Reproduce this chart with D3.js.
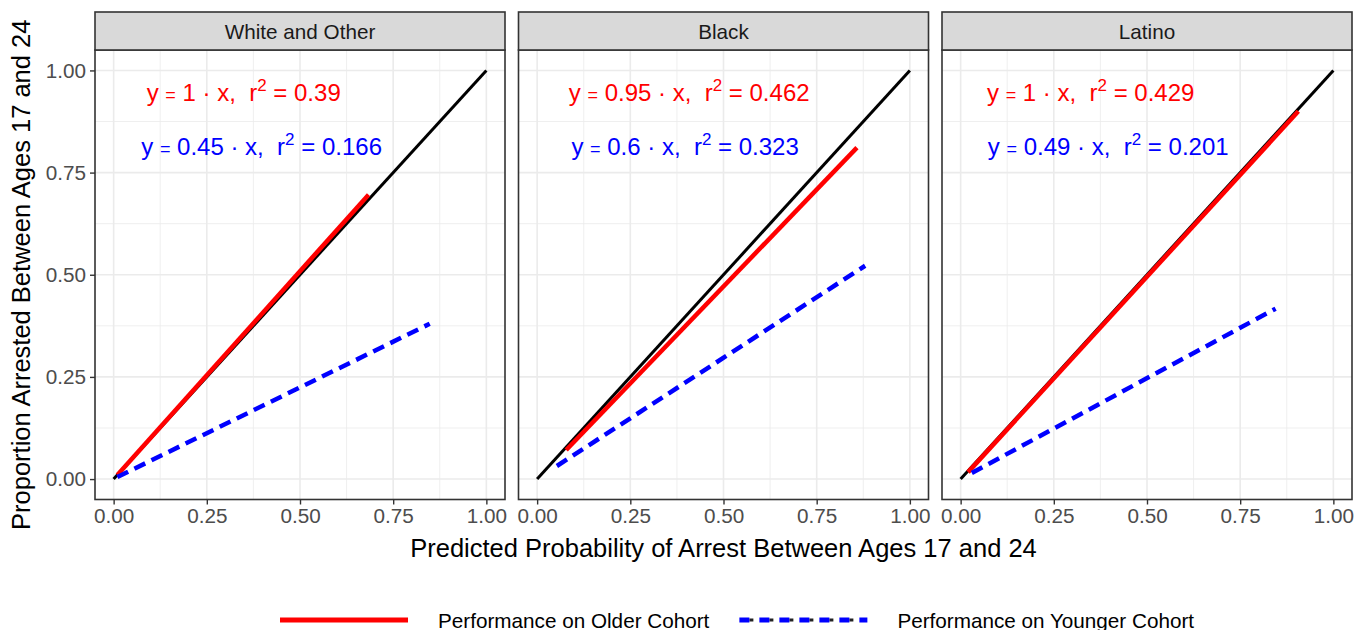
<!DOCTYPE html>
<html>
<head>
<meta charset="utf-8">
<script src="https://cdn.jsdelivr.net/npm/d3@7"></script>
<style>
  body { margin: 0; background: #fff; }
  text { font-family: "Liberation Sans", Arial, sans-serif; }
</style>
</head>
<body>
<div id="chart"></div>
<script>
// panels and axis ticks
var panels = ["White and Other", "Black", "Latino"];
var ticks = [0, 0.25, 0.5, 0.75, 1];
var tickLabels = ["0.00", "0.25", "0.50", "0.75", "1.00"];
var minorTicks = [0.125, 0.375, 0.625, 0.875];

// fitted lines, [x0, y0, x1, y1] per panel
var olderFit = [[0.01, 0.01, 0.684, 0.696], [0.078, 0.071, 0.858, 0.811], [0.02, 0.017, 0.906, 0.90]];
var youngerFit = [[0.01, 0.005, 0.848, 0.38], [0.053, 0.032, 0.88, 0.522], [0.03, 0.015, 0.845, 0.417]];

// equation labels
var olderSlope = ["1", "0.95", "1"];
var olderR2 = ["0.39", "0.462", "0.429"];
var youngerSlope = ["0.45", "0.6", "0.49"];
var youngerR2 = ["0.166", "0.323", "0.201"];
var olderLabelX = [0.349, 0.408, 0.349];
var youngerLabelX = [0.397, 0.397, 0.396];
var olderLabelY = 0.924;
var youngerLabelY = 0.794;

var legendLabels = ["Performance on Older Cohort", "Performance on Younger Cohort"];

var width = 1367, height = 630;
var panelW = 410, panelTop = 50, panelBottom = 499.5, stripTop = 12;
var panelLeft = [95, 518.5, 942];
var smallFont = 20.7, titleFont = 25.5;

var svg = d3.select("#chart").append("svg")
	.attr("width", width)
	.attr("height", height);

var x = d3.scaleLinear().domain([-0.05, 1.05]).range([0, panelW]);
var y = d3.scaleLinear().domain([-0.05, 1.05]).range([panelBottom, panelTop]);

panels.forEach(function(name, i)
{
	var g = svg.append("g").attr("transform", "translate(" + panelLeft[i] + ",0)");

	//minor grid
	minorTicks.forEach(function(t)
	{
		g.append("line").attr("x1", x(t)).attr("x2", x(t)).attr("y1", panelTop).attr("y2", panelBottom)
			.attr("stroke", "#EBEBEB").attr("stroke-width", 0.8);
		g.append("line").attr("x1", 0).attr("x2", panelW).attr("y1", y(t)).attr("y2", y(t))
			.attr("stroke", "#EBEBEB").attr("stroke-width", 0.8);
	});
	//major grid
	ticks.forEach(function(t)
	{
		g.append("line").attr("x1", x(t)).attr("x2", x(t)).attr("y1", panelTop).attr("y2", panelBottom)
			.attr("stroke", "#EBEBEB").attr("stroke-width", 1.6);
		g.append("line").attr("x1", 0).attr("x2", panelW).attr("y1", y(t)).attr("y2", y(t))
			.attr("stroke", "#EBEBEB").attr("stroke-width", 1.6);
	});

	//identity line
	g.append("line")
		.attr("x1", x(0)).attr("y1", y(0)).attr("x2", x(1)).attr("y2", y(1))
		.attr("stroke", "black").attr("stroke-width", 3);

	var o = olderFit[i];
	g.append("line")
		.attr("x1", x(o[0])).attr("y1", y(o[1])).attr("x2", x(o[2])).attr("y2", y(o[3]))
		.attr("stroke", "#FF0000").attr("stroke-width", 4.5);

	var yf = youngerFit[i];
	g.append("line")
		.attr("x1", x(yf[0])).attr("y1", y(yf[1])).attr("x2", x(yf[2])).attr("y2", y(yf[3]))
		.attr("stroke", "#0000FF").attr("stroke-width", 4.5)
		.attr("stroke-dasharray", "12,7");

	//equations
	drawEquation(g, x(olderLabelX[i]), y(olderLabelY), olderSlope[i], olderR2[i], "#FF0000");
	drawEquation(g, x(youngerLabelX[i]), y(youngerLabelY), youngerSlope[i], youngerR2[i], "#0000FF");

	//panel border
	g.append("rect").attr("x", 0).attr("y", panelTop).attr("width", panelW).attr("height", panelBottom - panelTop)
		.attr("fill", "none").attr("stroke", "#333333").attr("stroke-width", 1.6);

	//strip
	g.append("rect").attr("x", 0).attr("y", stripTop).attr("width", panelW).attr("height", panelTop - stripTop)
		.attr("fill", "#D9D9D9").attr("stroke", "#333333").attr("stroke-width", 1.6);
	g.append("text").attr("x", panelW / 2).attr("y", (stripTop + panelTop) / 2 + 7.5)
		.attr("text-anchor", "middle").attr("font-size", smallFont).attr("fill", "#1A1A1A").text(name);

	//x axis
	var xAxis = g.append("g").attr("transform", "translate(0," + panelBottom + ")")
		.call(d3.axisBottom(x).tickValues(ticks).tickFormat(function(d, j) { return tickLabels[j]; })
			.tickSize(5).tickPadding(4));
	xAxis.select(".domain").remove();
	xAxis.selectAll("line").attr("stroke", "#333333").attr("stroke-width", 1.4);
	xAxis.selectAll("text").attr("font-size", smallFont).attr("fill", "#4D4D4D")
		.attr("font-family", "Liberation Sans, Arial, sans-serif");

	if(i == 0)
	{
		var yAxis = g.append("g")
			.call(d3.axisLeft(y).tickValues(ticks).tickFormat(function(d, j) { return tickLabels[j]; })
				.tickSize(5).tickPadding(4));
		yAxis.select(".domain").remove();
		yAxis.selectAll("line").attr("stroke", "#333333").attr("stroke-width", 1.4);
		yAxis.selectAll("text").attr("font-size", smallFont).attr("fill", "#4D4D4D")
			.attr("font-family", "Liberation Sans, Arial, sans-serif");
	}
});

//axis titles
svg.append("text").attr("x", (panelLeft[0] + panelLeft[2] + panelW) / 2).attr("y", 557)
	.attr("text-anchor", "middle").attr("font-size", titleFont).attr("fill", "black")
	.text("Predicted Probability of Arrest Between Ages 17 and 24");
svg.append("text").attr("transform", "translate(30," + (panelTop + panelBottom) / 2 + ") rotate(-90)")
	.attr("text-anchor", "middle").attr("font-size", titleFont).attr("fill", "black")
	.text("Proportion Arrested Between Ages 17 and 24");

//legend
var legendY = 620;
var lx = 280;
var legendColors = ["#FF0000", "#0000FF"];
var legendDash = [null, "10,10"];
legendLabels.forEach(function(label, i)
{
	if(i == 1)
	{
		//black bits showing between the dashes
		svg.append("line").attr("x1", lx).attr("x2", lx + 128).attr("y1", legendY).attr("y2", legendY)
			.attr("stroke", "#222").attr("stroke-width", 3)
			.attr("stroke-dasharray", "0,10,4,6");
	}
	svg.append("line").attr("x1", lx).attr("x2", lx + 128).attr("y1", legendY).attr("y2", legendY)
		.attr("stroke", legendColors[i]).attr("stroke-width", 5)
		.attr("stroke-dasharray", legendDash[i]);
	var t = svg.append("text").attr("x", lx + 158).attr("y", legendY + 7.5)
		.attr("font-size", smallFont).attr("fill", "black").text(label);
	lx = lx + 158 + t.node().getComputedTextLength() + 30;
});

function drawEquation(g, cx, cy, slope, r2, color)
{
	var t = g.append("text").attr("x", cx).attr("y", cy)
		.attr("text-anchor", "middle").attr("font-size", 24).attr("fill", color)
		.style("white-space", "pre");
	t.append("tspan").text("y ");
	t.append("tspan").attr("font-size", 18).text("=");
	t.append("tspan").text(" " + slope + " \u00B7 x,  r");
	t.append("tspan").attr("font-size", 17).attr("dy", -10).text("2");
	t.append("tspan").attr("dy", 10).text(" = " + r2);
}
</script>
</body>
</html>
